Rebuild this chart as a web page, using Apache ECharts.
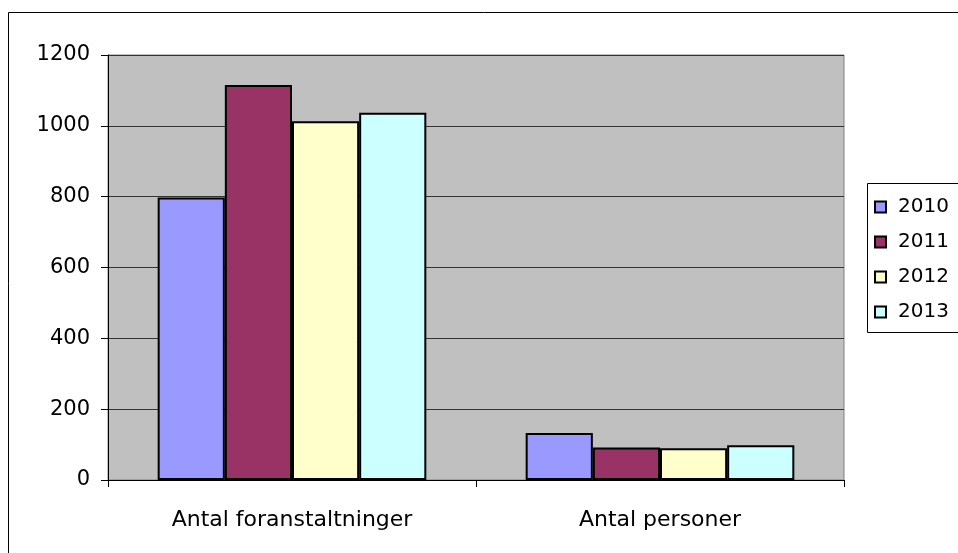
<!DOCTYPE html>
<html>
<head>
<meta charset="utf-8">
<script src="https://cdn.jsdelivr.net/npm/echarts@6/dist/echarts.min.js"></script>
<style>html,body{margin:0;padding:0;background:#fff;}#c{width:958px;height:553px;}</style>
</head>
<body>
<div id="c"></div>
<script>
var categories = ['Antal foranstaltninger', 'Antal personer'];
var years = ['2010', '2011', '2012', '2013'];
var values2010 = [798, 133];
var values2011 = [1115, 92];
var values2012 = [1013, 90];
var values2013 = [1037, 98];
var yTicks = [0, 200, 400, 600, 800, 1000, 1200];
var colors = ['#9999FF', '#993366', '#FFFFCC', '#CCFFFF'];

var seriesValues = [values2010, values2011, values2012, values2013];
var chart = echarts.init(document.getElementById('c'), null, {renderer: 'canvas'});
var font = 'DejaVu Sans';
chart.setOption({
  animation: false,
  textStyle: {fontFamily: font, fontSize: 21},
  graphic: [
    {type: 'rect', shape: {x: 8.5, y: 12.5, width: 1000, height: 600}, style: {fill: 'none', stroke: '#000', lineWidth: 1}, z: -10},
    {type: 'rect', shape: {x: 867.5, y: 183.5, width: 200, height: 149}, style: {fill: '#fff', stroke: '#000', lineWidth: 1}, z: 0}
  ],
  grid: {left: 108, right: 114, top: 55, bottom: 73, show: true, backgroundColor: '#c0c0c0', borderColor: '#808080', borderWidth: 1},
  legend: {
    orient: 'vertical', left: 869, top: 192, itemGap: 15,
    icon: 'rect', itemWidth: 11, itemHeight: 11,
    textStyle: {fontSize: 20, color: '#000', fontFamily: font, padding: [0, 0, 0, 7]},
    data: years, z: 5
  },
  xAxis: {
    type: 'category', data: categories,
    axisLine: {lineStyle: {color: '#000', width: 1}},
    axisTick: {show: true, length: 7, lineStyle: {color: '#000'}},
    axisLabel: {fontSize: 22, color: '#000', margin: 29, fontFamily: font},
    splitLine: {show: false}
  },
  yAxis: {
    type: 'value', min: 0, max: 1200, interval: 200,
    axisLine: {show: true, lineStyle: {color: '#000', width: 1}},
    axisTick: {show: true, length: 7, lineStyle: {color: '#000'}},
    axisLabel: {fontSize: 21, color: '#000', margin: 18, fontFamily: font,
      formatter: function (v) { return yTicks.indexOf(v) >= 0 ? String(v) : ''; }},
    splitLine: {show: true, lineStyle: {color: '#333', width: 1}}
  },
  series: years.map(function (y, i) {
    return {
      name: y, type: 'bar', data: seriesValues[i],
      barGap: '0%', barCategoryGap: '27%',
      itemStyle: {color: colors[i], borderColor: '#000', borderWidth: 2}
    };
  })
});
</script>
</body>
</html>
